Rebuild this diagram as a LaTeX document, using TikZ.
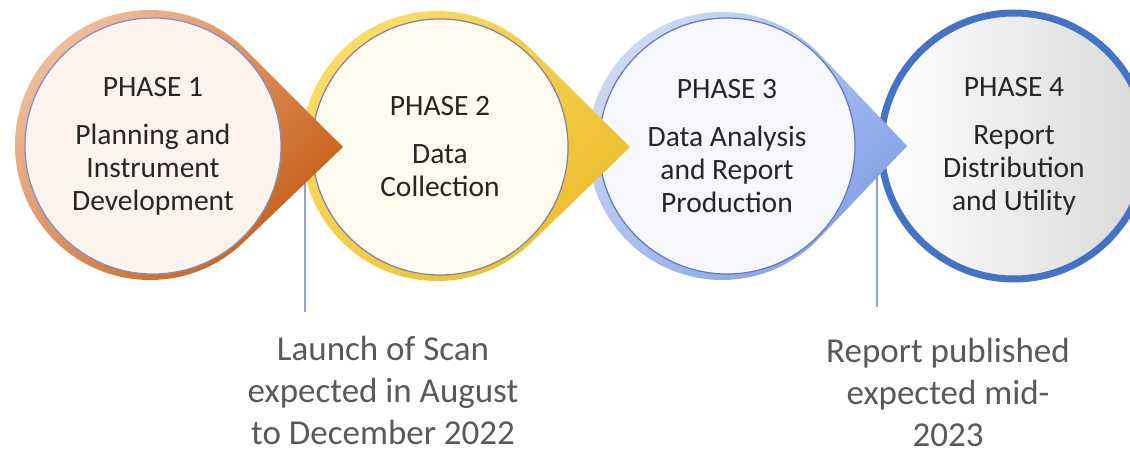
\documentclass[tikz,border=0pt]{standalone}
\usepackage{fontspec}
\setmainfont{Carlito}
\definecolor{phasetext}{HTML}{262626}
\definecolor{notetext}{HTML}{595959}
\definecolor{oneLight}{HTML}{F0C0A0}
\definecolor{oneDark}{HTML}{C55A11}
\definecolor{oneFill}{HTML}{FCF3EF}
\definecolor{oneRim}{HTML}{8090C4}
\definecolor{twoLight}{HTML}{F9DC68}
\definecolor{twoDark}{HTML}{EDBD2C}
\definecolor{twoFill}{HTML}{FFFBEF}
\definecolor{twoRim}{HTML}{7E849F}
\definecolor{threeLight}{HTML}{D0DAF3}
\definecolor{threeDark}{HTML}{819FE6}
\definecolor{threeFill}{HTML}{F5F7FD}
\definecolor{threeRim}{HTML}{5F78C0}
\definecolor{fourRing}{HTML}{4472C4}
\definecolor{markline}{HTML}{8FA0DA}
\usetikzlibrary{positioning,shadings}
\tikzset{
	phase/.style={
		circle,
		draw=oneRim,
		line width=1.2pt,
		minimum size=256pt,
		inner sep=0pt,
		align=center,
		text=phasetext,
		font=\fontsize{29.5}{33}\selectfont
	},
	drop/.style 2 args={
		top color=#1,
		bottom color=#2,
		shading angle=45
	},
	marker/.style={
		draw=markline,
		line width=1.5pt
	},
	note/.style={
		align=center,
		text=notetext,
		font=\fontsize{35}{42}\selectfont
	}
}

\begin{document}
\begin{tikzpicture}[x=1pt,y=1pt]
\useasboundingbox (0,0) rectangle (1130,455);
\clip (0,0) rectangle (1130,455);

% last phase, below everything
\node [phase,draw=fourRing,line width=7pt,minimum size=266pt,left color=white,right color=black!15] (p4) at (1014,309) {PHASE 4\\[15pt]Report\\Distribution\\and Utility};

% milestone markers
\coordinate (m1top) at (305,295);
\coordinate (m1bot) at (305,143);
\coordinate (m2top) at (877,295);
\coordinate (m2bot) at (877,148);
\draw [marker] (m1top) -- (m1bot);
\draw [marker] (m2top) -- (m2bot);

% phase 3
\shade [drop={threeLight}{threeDark}] (907,309) -- ([shift={(722,309)}]43.6:134) arc [start angle=43.6,end angle=316.4,radius=134] -- cycle;
\node [phase,fill=threeFill,draw=threeRim] (p3) at (727,309) {PHASE 3\\[15pt]Data Analysis\\and Report\\Production};

% phase 2
\shade [drop={twoLight}{twoDark}] (630,308) -- ([shift={(437,309)}]45.6:135) arc [start angle=45.6,end angle=314.4,radius=135] -- cycle;
\node [phase,fill=twoFill,draw=twoRim] (p2) at (440,308) {PHASE 2\\[15pt]Data\\Collection};

% phase 1
\shade [drop={oneLight}{oneDark}] (343,308) -- ([shift={(150,310)}]45.6:135) arc [start angle=45.6,end angle=314.4,radius=135] -- cycle;
\node [phase,fill=oneFill] (p1) at (153,309) {PHASE 1\\[15pt]Planning and\\Instrument\\Development};

% notes under the markers
\node [note] (n1) at (383,65) {Launch of Scan\\expected in August\\to December 2022};
\node [note] (n2) at (948,63) {Report published\\expected mid-\\2023};
\end{tikzpicture}
\end{document}
